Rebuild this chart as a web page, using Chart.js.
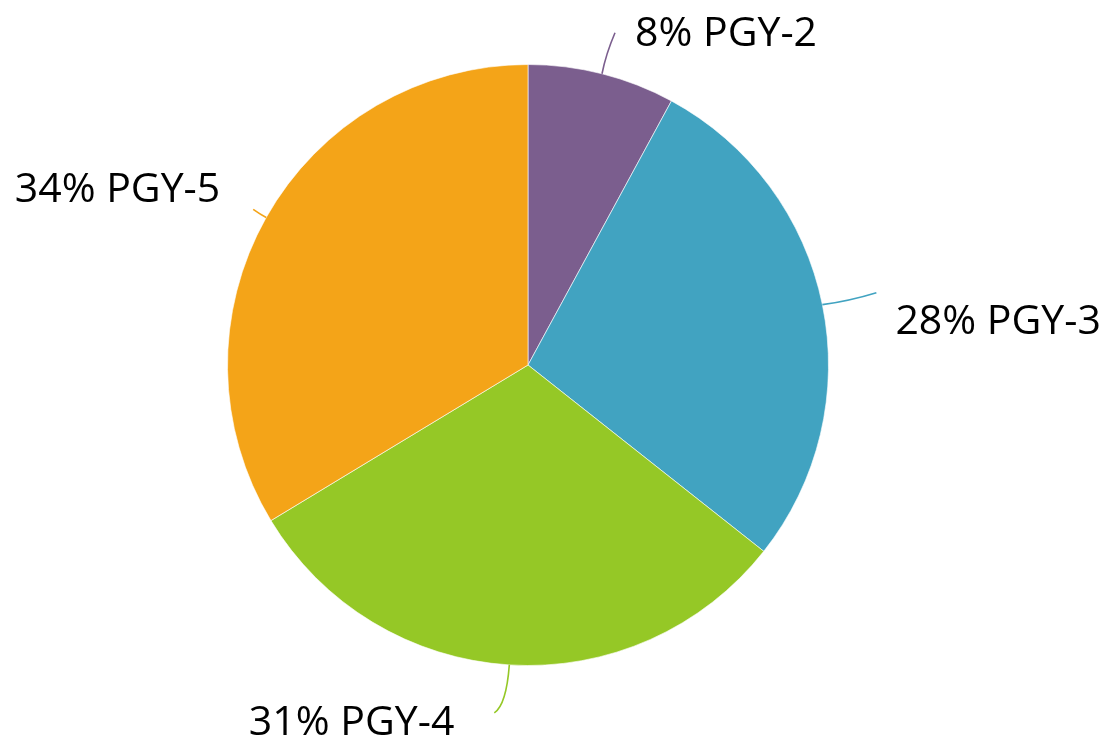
<!DOCTYPE html>
<html>
<head>
<meta charset="utf-8">
<script src="https://cdn.jsdelivr.net/npm/chart.js@4/dist/chart.umd.min.js"></script>
<style>
    html, body { margin: 0; padding: 0; background: #fff; }
    #wrap { width: 1112px; height: 742px; position: relative; }
</style>
</head>
<body>
<div id="wrap"><canvas id="pizza"></canvas></div>
<script>
// dados do gráfico
const categorias = ['PGY-2', 'PGY-3', 'PGY-4', 'PGY-5'];
const percentuais = [8, 28, 31, 34];
const cores = ['#7B5E8E', '#41A3C1', '#95C826', '#F4A418'];

// posição das linhas de chamada e textos (relativo à borda da fatia)
const chamadas = [
    { fim: [13, -41], curva: [4, -20], texto: [20, 13], alinhar: 'left' },
    { fim: [54, -12], curva: [28, -4], texto: [19, 41], alinhar: 'left' },
    { fim: [-15, 48], curva: [-3, 40], texto: [-40, 22], alinhar: 'right' },
    { fim: [-13, -8], curva: [-6, -3], texto: [-33, -7], alinhar: 'right' }
];

const pluginChamadas = {
    id: 'chamadas',
    afterDatasetsDraw: function (chart) {
        const ctx = chart.ctx;
        const meta = chart.getDatasetMeta(0);
        meta.data.forEach((arc, i) => {
            const c = chamadas[i];
            const meio = (arc.startAngle + arc.endAngle) / 2;
            const x0 = arc.x + Math.cos(meio) * arc.outerRadius;
            const y0 = arc.y + Math.sin(meio) * arc.outerRadius;
            const x1 = x0 + c.fim[0], y1 = y0 + c.fim[1];

            ctx.save();
            ctx.strokeStyle = cores[i];
            ctx.lineWidth = 1.6;
            ctx.beginPath();
            ctx.moveTo(x0, y0);
            ctx.quadraticCurveTo(x0 + c.curva[0], y0 + c.curva[1], x1, y1);
            ctx.stroke();

            ctx.fillStyle = '#000';
            ctx.font = '41px "Open Sans", sans-serif';
            ctx.textAlign = c.alinhar;
            ctx.textBaseline = 'alphabetic';
            ctx.fillText(percentuais[i] + '% ' + categorias[i], x1 + c.texto[0], y1 + c.texto[1]);
            ctx.restore();
        });
    }
};

new Chart(document.getElementById('pizza'), {
    type: 'pie',
    data: {
        labels: categorias,
        datasets: [{
            data: percentuais,
            backgroundColor: cores,
            borderColor: 'rgba(255,255,255,0.6)',
            borderWidth: 1
        }]
    },
    options: {
        responsive: true,
        maintainAspectRatio: false,
        animation: false,
        layout: { padding: { left: 227, right: 283, top: 64, bottom: 76 } },
        plugins: {
            legend: { display: false },
            tooltip: { enabled: false }
        }
    },
    plugins: [pluginChamadas]
});
</script>
</body>
</html>
